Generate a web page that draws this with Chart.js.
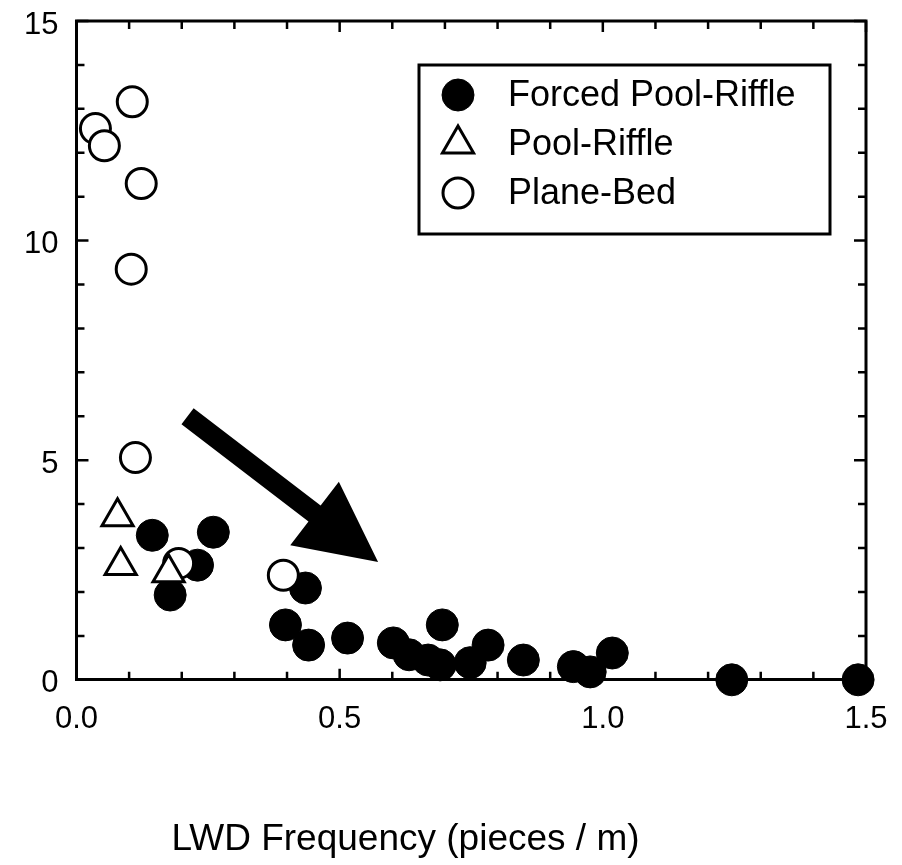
<!DOCTYPE html>
<html>
<head>
<meta charset="utf-8">
<script src="https://cdn.jsdelivr.net/npm/chart.js@4.4.1/dist/chart.umd.min.js"></script>
<style>
  html, body { margin: 0; padding: 0; background: #fff; }
  #grafico { display: block; }
</style>
</head>
<body>
<canvas id="grafico" width="902" height="865"></canvas>
<script>
// Valores
const forzadoX = [0.144, 0.260, 0.230, 0.178, 0.435, 0.397, 0.441, 0.515, 0.602, 0.632, 0.695, 0.668, 0.691, 0.748, 0.782, 0.849, 0.944, 0.976, 1.018, 1.245, 1.485];
const forzadoY = [3.29, 3.36, 2.61, 1.93, 2.09, 1.25, 0.79, 0.95, 0.84, 0.57, 1.25, 0.45, 0.34, 0.39, 0.79, 0.45, 0.30, 0.18, 0.61, 0.0, 0.0];
const poolX = [0.078, 0.084, 0.175];
const poolY = [3.71, 2.60, 2.44];
const planoX = [0.106, 0.036, 0.053, 0.123, 0.104, 0.112, 0.194, 0.393];
const planoY = [13.16, 12.55, 12.16, 11.30, 9.35, 5.06, 2.65, 2.38];

const nombres = ["Forced Pool-Riffle", "Pool-Riffle", "Plane-Bed"];
const etiquetasX = [0.0, 0.5, 1.0, 1.5];
const etiquetasY = [0, 5, 10, 15];
const tituloX = "LWD Frequency (pieces / m)";
// flecha en unidades de datos: cola y punta
const flechaCola = [0.211, 6.0];
const flechaPunta = [0.573, 2.68];

const fuente = "'Liberation Sans', Arial, Helvetica, sans-serif";

// junto x e y en puntos
const puntos = (xs, ys) => xs.map((v, i) => ({ x: v, y: ys[i] }));
const esEtiqueta = (lista, v) => lista.some((t) => Math.abs(t - v) < 1e-6);

// marcas hacia adentro, marco de arriba/derecha, flecha, leyenda y título del eje x
const extras = {
  id: "extras",
  beforeDatasetsDraw(chart) {
    const { ctx, scales: { x, y } } = chart;
    const p0 = [x.getPixelForValue(flechaCola[0]), y.getPixelForValue(flechaCola[1])];
    const p1 = [x.getPixelForValue(flechaPunta[0]), y.getPixelForValue(flechaPunta[1])];
    const dx = p1[0] - p0[0], dy = p1[1] - p0[1];
    const largo = Math.hypot(dx, dy);
    const ux = dx / largo, uy = dy / largo;
    const nx = -uy, ny = ux;
    const cabeza = 80, anchoCabeza = 40, anchoCuerpo = 10;
    const bx = p1[0] - ux * cabeza, by = p1[1] - uy * cabeza;
    ctx.save();
    ctx.fillStyle = "#000";
    ctx.beginPath();
    ctx.moveTo(p0[0] + nx * anchoCuerpo, p0[1] + ny * anchoCuerpo);
    ctx.lineTo(bx + nx * anchoCuerpo, by + ny * anchoCuerpo);
    ctx.lineTo(bx + nx * anchoCabeza, by + ny * anchoCabeza);
    ctx.lineTo(p1[0], p1[1]);
    ctx.lineTo(bx - nx * anchoCabeza, by - ny * anchoCabeza);
    ctx.lineTo(bx - nx * anchoCuerpo, by - ny * anchoCuerpo);
    ctx.lineTo(p0[0] - nx * anchoCuerpo, p0[1] - ny * anchoCuerpo);
    ctx.closePath();
    ctx.fill();
    ctx.restore();
  },
  afterDraw(chart) {
    const { ctx, chartArea: a, scales: { x, y } } = chart;
    ctx.save();
    ctx.strokeStyle = "#000";
    ctx.lineWidth = 3;
    ctx.beginPath();
    ctx.moveTo(a.left - 1.5, a.top);
    ctx.lineTo(a.right, a.top);
    ctx.lineTo(a.right, a.bottom + 1.5);
    ctx.stroke();
    // marcas hacia adentro en los cuatro lados
    ctx.lineWidth = 2.5;
    x.ticks.forEach((t) => {
      const px = x.getPixelForValue(t.value);
      const l = esEtiqueta(etiquetasX, t.value) ? 11 : 8;
      ctx.beginPath();
      ctx.moveTo(px, a.top);
      ctx.lineTo(px, a.top + l);
      ctx.moveTo(px, a.bottom);
      ctx.lineTo(px, a.bottom - l);
      ctx.stroke();
    });
    y.ticks.forEach((t) => {
      const py = y.getPixelForValue(t.value);
      const l = esEtiqueta(etiquetasY, t.value) ? 12 : 8;
      ctx.beginPath();
      ctx.moveTo(a.right, py);
      ctx.lineTo(a.right - l, py);
      ctx.moveTo(a.left, py);
      ctx.lineTo(a.left + l, py);
      ctx.stroke();
    });

    // leyenda con caja
    const caja = { left: a.right - 447, top: a.top + 44, w: 411, h: 169 };
    ctx.lineWidth = 3;
    ctx.strokeRect(caja.left, caja.top, caja.w, caja.h);
    const filas = [30, 79, 128];
    ctx.font = "36px " + fuente;
    ctx.textBaseline = "middle";
    ctx.textAlign = "left";
    chart.data.datasets.forEach((ds, i) => {
      const cy = caja.top + filas[i];
      const cx = caja.left + 39;
      ctx.fillStyle = ds.pointBackgroundColor;
      ctx.strokeStyle = ds.pointBorderColor;
      ctx.lineWidth = ds.pointBorderWidth;
      Chart.helpers.drawPoint(ctx, {
        pointStyle: ds.pointStyle,
        radius: ds.pointRadius,
        borderWidth: ds.pointBorderWidth,
        rotation: 0,
      }, cx, cy);
      ctx.fillStyle = "#000";
      ctx.fillText(ds.label, caja.left + 89, cy + 1);
    });

    // título del eje x
    ctx.font = "37px " + fuente;
    ctx.textAlign = "center";
    ctx.fillStyle = "#000";
    ctx.fillText(tituloX, a.left + 329, 840);
    ctx.restore();
  },
};

new Chart(document.getElementById("grafico"), {
  type: "scatter",
  data: {
    datasets: [
      {
        label: nombres[0],
        data: puntos(forzadoX, forzadoY),
        pointStyle: "circle",
        pointRadius: 16,
        pointBackgroundColor: "#000",
        pointBorderColor: "#000",
        pointBorderWidth: 1,
        order: 2,
        clip: false,
      },
      {
        label: nombres[1],
        data: puntos(poolX, poolY),
        pointStyle: "triangle",
        pointRadius: 18,
        pointBackgroundColor: "#fff",
        pointBorderColor: "#000",
        pointBorderWidth: 3,
        order: 0,
        clip: false,
      },
      {
        label: nombres[2],
        data: puntos(planoX, planoY),
        pointStyle: "circle",
        pointRadius: 15,
        pointBackgroundColor: "#fff",
        pointBorderColor: "#000",
        pointBorderWidth: 3,
        order: 1,
        clip: false,
      },
    ],
  },
  options: {
    responsive: false,
    animation: false,
    events: [],
    layout: {
      padding: { left: 24, right: 36, top: 19, bottom: 127 },
    },
    plugins: {
      legend: { display: false },
      tooltip: { enabled: false },
    },
    scales: {
      x: {
        type: "linear",
        min: 0,
        max: 1.5,
        border: { display: true, color: "#000", width: 3 },
        // las marcas de Chart.js quedan transparentes: solo dan el espacio hasta el texto
        grid: {
          display: true,
          drawOnChartArea: false,
          drawTicks: true,
          tickLength: 21,
          tickColor: "rgba(0,0,0,0)",
        },
        ticks: {
          stepSize: 0.1,
          autoSkip: false,
          maxRotation: 0,
          padding: 0,
          color: "#000",
          font: { family: fuente, size: 31 },
          callback: (v) => (esEtiqueta(etiquetasX, v) ? v.toFixed(1) : ""),
        },
      },
      y: {
        type: "linear",
        min: 0,
        max: 15,
        border: { display: true, color: "#000", width: 3 },
        grid: {
          display: true,
          drawOnChartArea: false,
          drawTicks: true,
          tickLength: 18,
          tickColor: "rgba(0,0,0,0)",
        },
        ticks: {
          stepSize: 1,
          autoSkip: false,
          padding: 0,
          labelOffset: 4,
          color: "#000",
          font: { family: fuente, size: 31 },
          callback: (v) => (esEtiqueta(etiquetasY, v) ? String(v) : ""),
        },
      },
    },
  },
  plugins: [extras],
});
</script>
</body>
</html>
